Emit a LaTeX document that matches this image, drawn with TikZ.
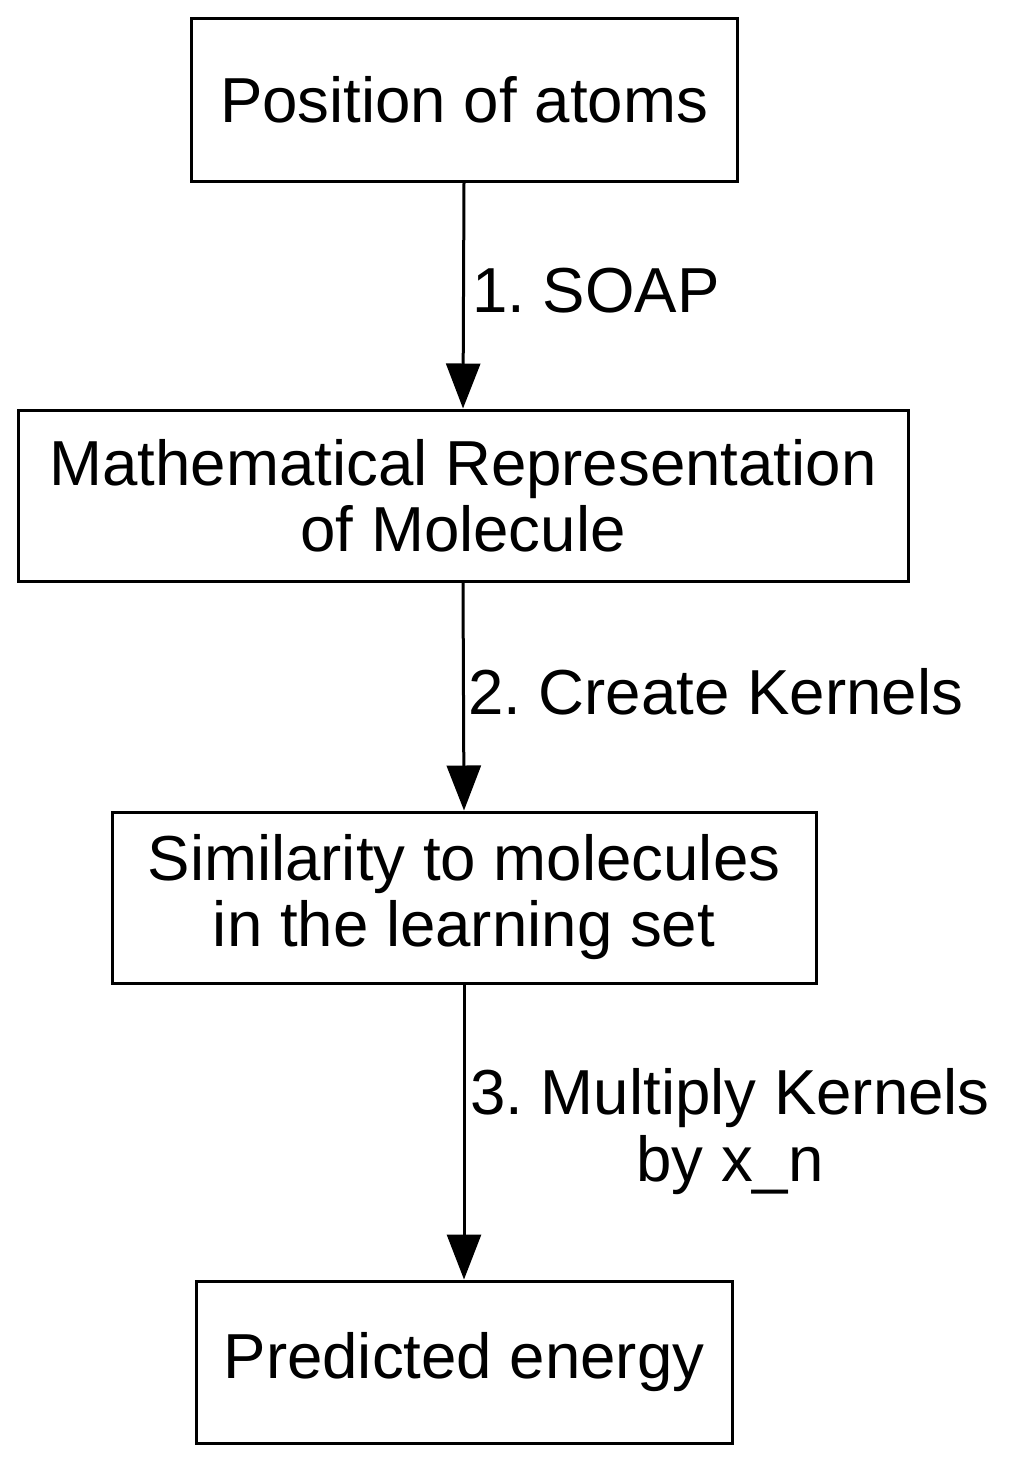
\documentclass[tikz,border=0pt]{standalone}
\usepackage{fontspec}
\setmainfont{Liberation Sans}
\usetikzlibrary{arrows.meta}
\frenchspacing
\begin{document}
\begin{tikzpicture}[x=1pt,y=-1pt,
  box/.style={draw,line width=3pt,inner sep=0pt,align=center,
    font=\fontsize{63.6}{66}\selectfont\frenchspacing},
  lbl/.style={inner sep=0pt,align=center,anchor=west,
    font=\fontsize{63.6}{67}\selectfont\frenchspacing},
  conn/.style={line width=3pt,-{Triangle[length=45pt,width=34pt]}}]
\useasboundingbox (0,0) rectangle (1022,1462);
\node[box,minimum width=546pt,minimum height=163pt] (a) at (464,99.5) {Position of atoms};
\node[box,minimum width=890pt,minimum height=171pt] (b) at (463,495.5) {Mathematical Representation\\of Molecule};
\node[box,minimum width=704pt,minimum height=171pt] (c) at (464,897.5) {Similarity to molecules\\in the learning set};
\node[box,minimum width=536pt,minimum height=162pt] (d) at (464,1362) {Predicted energy};
\draw[conn] (a.south) -- (b.north);
\draw[conn] (b.south) -- (c.north);
\draw[conn] (c.south) -- (d.north);
\node[lbl] (l1) at (472,291) {1. SOAP};
\node[lbl] (l2) at (468,692) {2. Create Kernels};
\node[lbl] (l3) at (470,1132) {3. Multiply Kernels\\by x\_n};
\end{tikzpicture}
\end{document}
